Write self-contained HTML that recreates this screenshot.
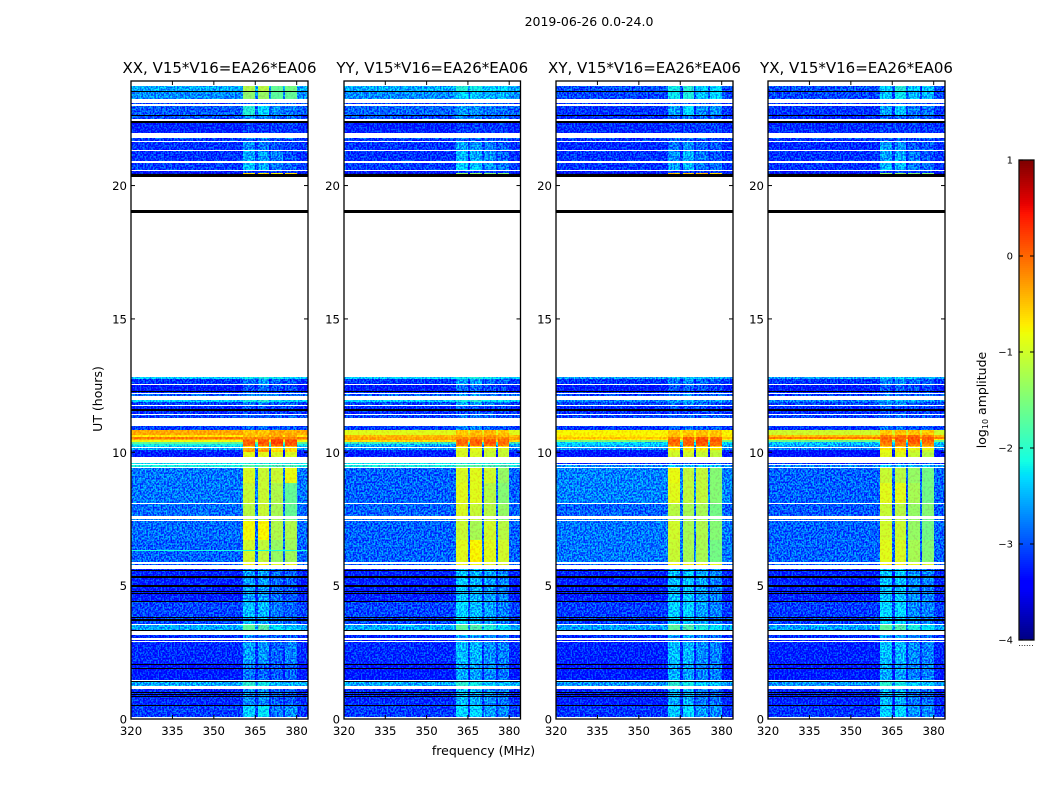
<!DOCTYPE html>
<html>
<head>
<meta charset="utf-8">
<title>2019-06-26 dynamic spectra</title>
<style>
html,body{margin:0;padding:0;background:#fff;}
svg{display:block;}
text{font-family:"DejaVu Sans","Liberation Sans",sans-serif;fill:#000;}
</style>
</head>
<body>
<svg id="figure" xmlns="http://www.w3.org/2000/svg" width="1050" height="800" viewBox="0 0 1050 800">
<defs>
<filter id="speckleStrong" filterUnits="userSpaceOnUse" x="0" y="0" width="1050" height="800" color-interpolation-filters="sRGB">
<feTurbulence type="fractalNoise" baseFrequency="0.62 0.55" numOctaves="1" seed="4" result="n"/>
<feColorMatrix in="n" type="matrix" values="0 0 0 0 0.5  4 0 0 0 -1.5  0 0 0 0 0.5  0 0 0 0 1" result="g"/>
<feComposite in="SourceGraphic" in2="g" operator="arithmetic" k1="0" k2="1" k3="0.62" k4="-0.31" result="m"/>
<feComposite in="m" in2="SourceAlpha" operator="in"/>
</filter>
<filter id="speckleWeak" filterUnits="userSpaceOnUse" x="0" y="0" width="1050" height="800" color-interpolation-filters="sRGB">
<feTurbulence type="fractalNoise" baseFrequency="0.5 0.45" numOctaves="1" seed="9" result="n"/>
<feColorMatrix in="n" type="matrix" values="0 0 0 0 0.5  4 0 0 0 -1.5  0 0 0 0 0.5  0 0 0 0 1" result="g"/>
<feComposite in="SourceGraphic" in2="g" operator="arithmetic" k1="0" k2="1" k3="0.22" k4="-0.11" result="m"/>
<feComposite in="m" in2="SourceAlpha" operator="in"/>
</filter>
</defs>
<text x="589" y="26" text-anchor="middle" font-size="12.5">2019-06-26 0.0-24.0</text>
<text x="0" y="0" transform="translate(102,399) rotate(-90)" text-anchor="middle" font-size="12.5">UT (hours)</text>
<text x="483.5" y="755" text-anchor="middle" font-size="12.5">frequency (MHz)</text>
<text x="0" y="0" transform="translate(986,400) rotate(-90)" text-anchor="middle" font-size="12.5">log<tspan font-size="8" dy="2">10</tspan><tspan dy="-2"> amplitude</tspan></text>
<g id="panels"></g>
<g id="colorbar"></g>
</svg>
<script>
/* UT extent of each observed scan segment, hours */
const segmentStart = [23.73,23.52,23.10,22.99,22.61,22.36,21.80,21.73,21.63,21.29,20.85,20.54,20.48,
  12.81,12.74,12.51,12.26,12.17,11.96,11.89,11.74,11.54,11.39,10.98,
  10.83,10.64,10.58,10.51,10.46,10.38,10.31,10.23,10.15,10.08,10.00,
  9.61,9.52,9.42,8.85,8.06,7.51,7.42,6.70,5.80,5.61,4.40,3.52,3.15,2.96,2.87,2.10,1.38,1.12,0.50];
const segmentEnd = [23.52,23.23,23.05,22.64,22.51,21.97,21.75,21.66,21.33,20.91,20.58,20.48,20.43,
  12.74,12.55,12.31,12.21,12.12,11.89,11.77,11.61,11.44,11.29,10.83,
  10.64,10.58,10.51,10.46,10.38,10.31,10.23,10.18,10.08,10.00,9.83,
  9.56,9.45,8.85,8.08,7.61,7.45,6.70,5.90,5.76,4.40,3.55,3.31,3.02,2.91,2.10,1.46,1.25,0.50,0.07];
/* Frequency channel edges (MHz) and which level each channel block reads: 0 = off-band, 1-4 = sub-bands */
const channelEdges = [320,360.7,364.9,365.9,370,370.7,375.2,375.8,380,384.1];
const channelLevel = [0,1,0,2,0,3,0,4,0];
/* log10 amplitude per segment: [off-band, sub1, sub2, sub3, sub4] */
const levelsXX = [
[-2.55,-1.2,-1.15,-1.65,-1.55],[-2.7,-1.4,-1.35,-1.7,-1.65],[-3.05,-2.9,-2.9,-2.9,-2.9],[-2.95,-2.05,-2.3,-2.7,-2.8],[-3,-2.6,-2.7,-2.85,-2.85],
[-3.25,-3.1,-3.1,-3.1,-3.1],[-3,-2.7,-2.7,-2.85,-2.85],[-3.15,-3,-3,-3.05,-3.05],[-3.15,-2.7,-2.8,-3,-3.05],[-3.15,-2.55,-2.6,-2.75,-3],
[-3.1,-2.4,-2.55,-2.8,-2.9],[-3.3,-3.05,-3.05,-3.1,-3.1],[-3.6,-0.6,-0.6,-0.75,-0.65],
[-2.35,-2.2,-2.1,-2.2,-2.3],[-3.15,-2.8,-2.6,-2.9,-3],[-3.3,-3,-2.9,-3,-3.05],[-3.2,-3,-3,-3.05,-3.05],[-2.9,-2.75,-2.7,-2.85,-2.85],
[-2.35,-2.15,-2.05,-2.25,-2.25],[-3.05,-2.8,-2.7,-2.9,-2.95],[-3.2,-3,-3,-3.05,-3.05],[-3.2,-3.05,-3.05,-3.05,-3.1],[-3.05,-2.9,-2.9,-2.95,-2.95],[-3.1,-2.9,-2.85,-2.95,-2.95],
[-0.35,-0.5,-0.5,-0.35,-0.4],[-0.65,-0.4,-0.4,-0.3,-0.3],[-0.1,-0.25,-0.2,-0.1,-0.15],[-0.4,-0.1,0,0.1,0],[-0.8,0.05,0.1,0.2,0.1],[-1.7,0.05,0.1,0.2,0.1],[-2.15,-0.05,0,0.1,0.05],[-2.4,-0.6,-0.6,-0.5,-0.5],
[-2.6,-0.4,-0.4,-0.6,-0.6],[-3.2,-0.3,-0.25,-0.6,-0.6],[-3.3,-0.9,-0.9,-0.95,-0.95],
[-2.2,-2.1,-2.1,-2.1,-2.1],[-2.1,-1.7,-1.7,-1.8,-1.8],
[-2.8,-0.95,-1.05,-1.05,-0.85],[-2.8,-1.05,-1.05,-1.2,-1.65],[-2.85,-1.15,-1.05,-1.25,-1.65],[-2.75,-1.15,-1.15,-1.25,-1.55],[-2.85,-0.8,-0.75,-1.2,-1.2],[-2.9,-1,-1.1,-1.35,-1.3],
[-2.95,-0.75,-0.75,-0.9,-0.85],[-3.25,-2.6,-2.6,-2.85,-2.95],[-3.05,-2.45,-2.5,-2.8,-2.9],[-2.55,-1.7,-1.75,-2.25,-2.4],[-3.2,-2.7,-2.8,-2.95,-2.95],[-3.3,-3.05,-3.05,-3.05,-3.05],
[-3.2,-2.6,-2.65,-2.9,-2.75],[-3.3,-2.8,-2.9,-2.95,-2.9],[-2.55,-2,-2.15,-2.45,-2.5],[-3.2,-2.7,-2.7,-2.95,-2.95],[-3.1,-2.35,-2.25,-2.8,-2.7]];
const levelsYY = [
[-2.55,-2.05,-2.15,-2.3,-2.3],[-2.7,-2.3,-2.4,-2.5,-2.5],[-3.05,-2.9,-2.9,-2.9,-2.9],[-2.9,-2.6,-2.7,-2.8,-2.85],[-3,-2.75,-2.75,-2.85,-2.85],
[-3.25,-3.1,-3.1,-3.1,-3.1],[-3,-2.75,-2.75,-2.85,-2.85],[-3.15,-3,-3,-3.05,-3.05],[-3.15,-2.55,-2.65,-2.8,-2.9],[-3.15,-2.5,-2.55,-2.65,-2.9],
[-3.1,-2.35,-2.45,-2.65,-2.8],[-3.3,-3.05,-3.05,-3.1,-3.1],[-3.6,-1.35,-1.35,-1.45,-1.45],
[-2.35,-2.2,-2.1,-2.2,-2.3],[-3.15,-2.6,-2.6,-2.85,-2.95],[-3.3,-2.85,-2.85,-3,-3.05],[-3.2,-3,-3,-3.05,-3.05],[-2.9,-2.6,-2.6,-2.75,-2.85],
[-2.35,-2.15,-2.05,-2.25,-2.25],[-3.05,-2.6,-2.6,-2.8,-2.9],[-3.2,-2.9,-3,-3.05,-3.05],[-3.2,-3,-3,-3.05,-3.1],[-3.05,-2.75,-2.75,-2.9,-2.95],[-3.1,-2.75,-2.75,-2.9,-2.95],
[-0.9,-0.5,-0.45,-0.4,-0.5],[-0.45,-0.4,-0.35,-0.3,-0.4],[-0.35,-0.2,-0.15,-0.1,-0.2],[-0.3,-0.05,0,0,-0.05],[-0.6,0,0.05,0.05,0],[-1.9,0,0.05,0.05,0],[-2.5,-0.1,-0.05,-0.05,-0.1],[-2.7,-0.7,-0.7,-0.7,-0.7],
[-2.7,-0.9,-0.9,-0.95,-0.95],[-3.2,-0.95,-0.9,-1,-1.05],[-3.3,-0.95,-0.95,-1.05,-1.05],
[-2.2,-2.1,-2.1,-2.1,-2.1],[-2.1,-1.7,-1.7,-1.8,-1.8],
[-2.9,-0.95,-0.9,-1,-1.35],[-2.9,-0.9,-0.9,-1.15,-1.45],[-2.9,-0.95,-1.05,-1.15,-1.35],[-2.8,-1.05,-1.05,-1.15,-1.45],[-2.9,-1.05,-1.25,-1,-1.15],[-2.9,-0.9,-0.75,-0.9,-1],
[-2.95,-0.8,-0.8,-0.9,-0.95],[-3.25,-2.4,-2.5,-2.6,-2.75],[-3.05,-2.3,-2.45,-2.6,-2.75],[-2.55,-1.7,-1.8,-2.05,-2.25],[-3.2,-2.55,-2.6,-2.7,-2.8],[-3.3,-3.05,-3.05,-3.05,-3.05],
[-3.2,-2.45,-2.5,-2.7,-2.75],[-3.3,-2.55,-2.6,-2.7,-2.8],[-2.55,-2,-2.15,-2.35,-2.45],[-3.2,-2.45,-2.55,-2.7,-2.8],[-3.1,-2.3,-2.3,-2.6,-2.7]];
const levelsXY = [
[-3,-2.15,-2.05,-2.35,-2.3],[-3.05,-2.2,-2.1,-2.4,-2.3],[-3.1,-2.95,-2.95,-2.95,-2.95],[-3.15,-2.6,-2.3,-2.7,-2.7],[-3.2,-2.9,-2.75,-2.9,-2.9],
[-3.2,-3.1,-3.1,-3.1,-3.1],[-3.05,-2.85,-2.75,-2.9,-2.9],[-3.15,-3,-3,-3.05,-3.05],[-3.2,-2.8,-2.7,-2.9,-2.95],[-3.15,-2.7,-2.5,-2.8,-2.95],
[-3.15,-2.6,-2.5,-2.8,-2.85],[-3.3,-3.05,-3.05,-3.1,-3.1],[-3.6,-0.45,-0.5,-0.45,-0.55],
[-2.6,-2.4,-2.4,-2.4,-2.5],[-3.15,-2.8,-2.7,-2.9,-2.95],[-3.3,-3,-2.9,-3,-3.05],[-3.2,-3,-3,-3.05,-3.05],[-3.05,-2.85,-2.75,-2.9,-2.9],
[-2.75,-2.6,-2.5,-2.6,-2.6],[-3.05,-2.8,-2.7,-2.9,-2.95],[-3.2,-3,-3,-3.05,-3.05],[-3.2,-3.05,-3.05,-3.05,-3.1],[-3.05,-2.9,-2.9,-2.95,-2.95],[-3.15,-2.9,-2.85,-2.95,-2.95],
[-0.75,-0.5,-0.5,-0.45,-0.5],[-0.7,-0.45,-0.4,-0.4,-0.45],[-0.5,-0.1,0,0.1,0],[-0.7,0,0.05,0.15,0.05],[-1.5,0.05,0.05,0.15,0.05],[-2.3,0,0.05,0.1,0],[-2.4,-0.1,0,0.05,0],[-2.6,-0.6,-0.6,-0.6,-0.6],
[-2.7,-0.65,-0.65,-0.7,-0.75],[-3.3,-0.95,-0.9,-0.95,-1.05],[-3.35,-1,-1,-1.05,-1.1],
[-3.2,-3.05,-3.05,-3.05,-3.05],[-2.7,-2.4,-2.4,-2.4,-2.4],
[-2.75,-0.85,-1.1,-1.1,-1.45],[-2.75,-0.9,-1.1,-1.1,-1.45],[-2.9,-1.15,-1.25,-1.25,-1.55],[-2.8,-1.15,-1.25,-1.25,-1.55],[-2.8,-1,-1.25,-1.2,-1.45],[-2.8,-1.05,-1.25,-1.25,-1.55],
[-2.95,-0.7,-0.75,-0.75,-0.85],[-3.25,-2.45,-2.4,-2.6,-2.75],[-3.1,-2.35,-2.35,-2.6,-2.75],[-2.6,-1.7,-1.8,-2.1,-2.25],[-3.2,-2.6,-2.6,-2.75,-2.85],[-3.3,-3.05,-3.05,-3.05,-3.05],
[-3.25,-2.45,-2.5,-2.7,-2.75],[-3.3,-2.55,-2.6,-2.75,-2.75],[-2.65,-2,-2.15,-2.35,-2.45],[-3.25,-2.55,-2.55,-2.8,-2.85],[-3.15,-2.4,-2.3,-2.65,-2.7]];
const levelsYX = [
[-3,-2.3,-2.05,-2.4,-2.4],[-3.05,-2.4,-2.2,-2.5,-2.5],[-3.1,-2.95,-2.95,-2.95,-2.95],[-3.15,-2.6,-2.4,-2.8,-2.8],[-3.2,-2.9,-2.8,-2.9,-2.9],
[-3.2,-3.1,-3.1,-3.1,-3.1],[-3.05,-2.85,-2.75,-2.9,-2.9],[-3.15,-3,-3,-3.05,-3.05],[-3.2,-2.6,-2.7,-2.95,-2.95],[-3.15,-2.6,-2.55,-2.8,-2.95],
[-3.15,-2.5,-2.5,-2.8,-2.85],[-3.3,-3.05,-3.05,-3.1,-3.1],[-3.6,-1.35,-1.35,-1.45,-1.45],
[-2.6,-2.4,-2.4,-2.4,-2.5],[-3.15,-2.7,-2.7,-2.9,-2.95],[-3.3,-2.95,-2.9,-3,-3.05],[-3.2,-3,-3,-3.05,-3.05],[-3.05,-2.75,-2.75,-2.9,-2.9],
[-2.75,-2.5,-2.5,-2.6,-2.6],[-3.05,-2.7,-2.7,-2.9,-2.95],[-3.2,-2.95,-3,-3.05,-3.05],[-3.2,-3.05,-3.05,-3.05,-3.1],[-3.05,-2.85,-2.85,-2.95,-2.95],[-3.15,-2.85,-2.85,-2.95,-2.95],
[-1,-0.5,-0.45,-0.45,-0.5],[-0.45,-0.1,-0.1,-0.05,-0.1],[-0.1,0,0.05,0.1,0.05],[-0.7,0,0.05,0.1,0.05],[-1.6,0,0.05,0.1,0],[-2.4,-0.1,-0.05,0,-0.05],[-2.5,-0.2,-0.15,-0.1,-0.2],[-2.7,-0.6,-0.6,-0.6,-0.6],
[-2.8,-0.6,-0.65,-0.85,-0.85],[-3.35,-0.85,-0.8,-1,-1.05],[-3.4,-0.9,-0.9,-1.05,-1.15],
[-3.2,-3.05,-3.05,-3.05,-3.05],[-2.7,-2.4,-2.4,-2.4,-2.4],
[-2.9,-1.05,-1.15,-1.35,-1.55],[-2.9,-0.9,-0.9,-1.25,-1.55],[-2.95,-1.05,-1.15,-1.35,-1.45],[-2.9,-1.05,-1.15,-1.35,-1.55],[-2.9,-1,-1.05,-1.35,-1.55],[-2.9,-0.9,-0.95,-1.25,-1.45],
[-2.95,-0.75,-0.75,-0.85,-0.9],[-3.25,-2.4,-2.4,-2.7,-2.75],[-3.1,-2.3,-2.35,-2.7,-2.75],[-2.6,-1.7,-1.8,-2.1,-2.25],[-3.2,-2.6,-2.6,-2.75,-2.85],[-3.3,-3.05,-3.05,-3.05,-3.05],
[-3.25,-2.45,-2.5,-2.7,-2.75],[-3.3,-2.55,-2.6,-2.75,-2.75],[-2.65,-2,-2.15,-2.35,-2.45],[-3.25,-2.5,-2.55,-2.8,-2.85],[-3.15,-2.35,-2.3,-2.65,-2.7]];
/* Rows with fully zero visibility (black), UT hours: centre and thickness in hours */
const blackRowUT = [23.53,22.63,22.39,20.37,19.02,12.29,11.58,5.58,5.33,4.99,4.77,4.69,4.40,3.81,3.71,3.31,2.05,1.90,1.40,0.99,0.91,0.86,0.50];
const blackRowSpan = [0.05,0.05,0.08,0.12,0.13,0.05,0.07,0.05,0.05,0.05,0.04,0.04,0.05,0.05,0.05,0.05,0.05,0.05,0.06,0.05,0.04,0.04,0.05];
/* Faint interference trace in the XX panel */
const streakXXUT = [6.35];
const streakXXLevel = [-2.1];
/* Axis ticks */
const panelNames = ["XX","YY","XY","YX"];
const panelLevels = [levelsXX,levelsYY,levelsXY,levelsYX];
const panelTitles = ["XX, V15*V16=EA26*EA06","YY, V15*V16=EA26*EA06","XY, V15*V16=EA26*EA06","YX, V15*V16=EA26*EA06"];
const xTicks = [320,335,350,365,380];
const yTicks = [0,5,10,15,20];
const colorbarTicks = [-4,-3,-2,-1,0,1];

const NS = "http://www.w3.org/2000/svg";
const panelLeft = [131,344,556,768];
const panelRight = [308,520.5,733,945];
const plotTop = 81, plotBottom = 719;
const xMin = 320, xMax = 384.1, yMin = 0, yMax = 23.92;
const cbTop = 160, cbBottom = 640, cbLeft = 1019, cbRight = 1034, cbMin = -4, cbMax = 1;
const speckleThreshold = -1.7;

function xScale(mhz, i){ return panelLeft[i] + (mhz - xMin) / (xMax - xMin) * (panelRight[i] - panelLeft[i]); }
function yScale(h){ return plotBottom - (h - yMin) / (yMax - yMin) * (plotBottom - plotTop); }
function cbScale(v){ return cbBottom - (v - cbMin) / (cbMax - cbMin) * (cbBottom - cbTop); }

function interp(t, pts){
  for (let k = 1; k < pts.length; k++) {
    if (t <= pts[k][0]) {
      const a = pts[k-1], b = pts[k];
      return a[1] + (b[1] - a[1]) * (t - a[0]) / (b[0] - a[0]);
    }
  }
  return pts[pts.length-1][1];
}
function jet(v){
  const t = Math.max(0, Math.min(1, (v - cbMin) / (cbMax - cbMin)));
  const r = interp(t, [[0,0],[0.35,0],[0.66,1],[0.89,1],[1,0.5]]);
  const g = interp(t, [[0,0],[0.125,0],[0.375,1],[0.64,1],[0.91,0],[1,0]]);
  const b = interp(t, [[0,0.5],[0.11,1],[0.34,1],[0.65,0],[1,0]]);
  return "rgb(" + Math.round(r*255) + "," + Math.round(g*255) + "," + Math.round(b*255) + ")";
}
function shape(tag, parent, attrs){
  const el = document.createElementNS(NS, tag);
  for (const k in attrs) el.setAttribute(k, attrs[k]);
  parent.appendChild(el);
  return el;
}

const panelsRoot = document.getElementById("panels");
panelNames.forEach(function(name, i){
  const key = name.toLowerCase();
  const g = shape("g", panelsRoot, {});
  
  

  const faintLayer = shape("g", g, {filter:"url(#speckleStrong)", "shape-rendering":"crispEdges"});
  
  
  const brightLayer = shape("g", g, {filter:"url(#speckleWeak)", "shape-rendering":"crispEdges"});
  
  

  segmentStart.forEach(function(top, s){
    const y0 = Math.round(yScale(top));
    const y1 = Math.max(y0 + 1, Math.round(yScale(segmentEnd[s])));
    channelLevel.forEach(function(level, c){
      const x0 = Math.round(xScale(channelEdges[c], i));
      const x1 = Math.round(xScale(channelEdges[c+1], i));
      const value = panelLevels[i][s][level];
      const cell = shape("rect", value < speckleThreshold ? faintLayer : brightLayer, {
        x:x0, y:y0, width:x1-x0, height:y1-y0, fill:jet(value)
      });
      
      
    });
  });

  if (i === 0) {
    streakXXUT.forEach(function(h, k){
      const streak = shape("rect", g, {x:panelLeft[i], y:Math.round(yScale(h)), width:panelRight[i]-panelLeft[i], height:1, fill:jet(streakXXLevel[k]), "shape-rendering":"crispEdges"});
      
      
    });
  }

  blackRowUT.forEach(function(h, k){
    const y0 = Math.round(yScale(h + blackRowSpan[k]/2));
    const y1 = Math.max(y0 + 1, Math.round(yScale(h - blackRowSpan[k]/2)));
    const row = shape("rect", g, {x:panelLeft[i], y:y0, width:panelRight[i]-panelLeft[i], height:y1-y0, fill:"#000", "shape-rendering":"crispEdges"});
    
    
  });

  const frame = shape("rect", g, {x:panelLeft[i], y:plotTop, width:panelRight[i]-panelLeft[i], height:plotBottom-plotTop, fill:"none", stroke:"#000", "stroke-width":1.3});
  
  

  const title = shape("text", g, {x:(panelLeft[i]+panelRight[i])/2, y:73, "text-anchor":"middle", "font-size":15});
  title.textContent = panelTitles[i];
  
  

  xTicks.forEach(function(t){
    const x = xScale(t, i);
    [[plotBottom, plotBottom-4],[plotTop, plotTop+4]].forEach(function(p){
      const tick = shape("line", g, {x1:x, x2:x, y1:p[0], y2:p[1], stroke:"#000", "stroke-width":1});
      
      
    });
    const lab = shape("text", g, {x:x, y:735, "text-anchor":"middle", "font-size":11.7});
    lab.textContent = t;
    
    
  });
  yTicks.forEach(function(t){
    const y = yScale(t);
    [[panelLeft[i], panelLeft[i]+4],[panelRight[i], panelRight[i]-4]].forEach(function(p){
      const tick = shape("line", g, {x1:p[0], x2:p[1], y1:y, y2:y, stroke:"#000", "stroke-width":1});
      
      
    });
    const lab = shape("text", g, {x:panelLeft[i]-4, y:y+4.5, "text-anchor":"end", "font-size":11.7});
    lab.textContent = t;
    
    
  });
});

/* Colorbar */
const cb = document.getElementById("colorbar");
for (let p = cbTop; p < cbBottom; p += 2) {
  const v = cbMax - (p - cbTop) / (cbBottom - cbTop) * (cbMax - cbMin);
  const strip = shape("rect", cb, {x:cbLeft, y:p, width:cbRight-cbLeft, height:2, fill:jet(v), "shape-rendering":"crispEdges"});
  
  
}
const cbFrame = shape("rect", cb, {x:cbLeft, y:cbTop, width:cbRight-cbLeft, height:cbBottom-cbTop, fill:"none", stroke:"#111", "stroke-width":1.3});


colorbarTicks.forEach(function(t){
  const y = cbScale(t);
  [[cbLeft, cbLeft+4],[cbRight, cbRight-4]].forEach(function(p){
    const tick = shape("line", cb, {x1:p[0], x2:p[1], y1:y, y2:y, stroke:"#000", "stroke-width":1});
    
    
  });
  const lab = shape("text", cb, {x:1013, y:y+3.5, "text-anchor":"end", "font-size":10});
  lab.textContent = String(t).replace("-", "\u2212");
  
  
});
const minorMarks = shape("text", cb, {x:1026, y:646, "text-anchor":"middle", "font-size":8, fill:"#888"});
minorMarks.textContent = "......";


</script>
</body>
</html>
